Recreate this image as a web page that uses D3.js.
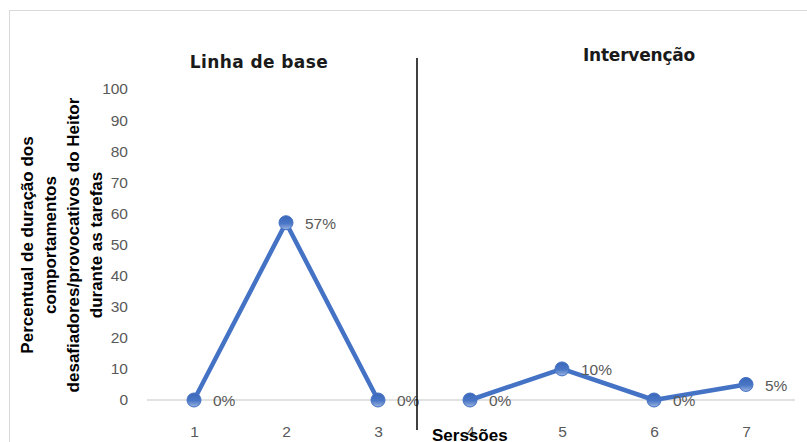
<!DOCTYPE html>
<html><head><meta charset="utf-8">
<script src="https://cdn.jsdelivr.net/npm/d3@7"></script>
<style>body{margin:0;background:#fff;}svg{display:block;}</style>
</head><body>
<svg id="c" width="807" height="442"></svg>
<script>
const sessions = ["1","2","3","4","5","6","7"];
const baselineValues = [0, 57, 0];
const interventionValues = [0, 10, 0, 5];
const baselineSessions = ["1","2","3"];
const interventionSessions = ["4","5","6","7"];
const yTicks = [0,10,20,30,40,50,60,70,80,90,100];
const phaseTitles = ["Linha de base", "Intervenção"];
const xTitle = "Serssões";
const yTitleLines = ["Percentual  de duração dos","comportamentos","desafiadores/provocativos do Heitor","durante as tarefas"];

const svg = d3.select("#c");
const gray = "#595959", blue = "#4472C4";
const font = "'Liberation Sans', Arial, sans-serif";

// chart border
svg.append("rect").attr("x",9.5).attr("y",10.5).attr("width",820).attr("height",460)
  .attr("fill","none").attr("stroke","#d9d9d9").attr("stroke-width",1);

const x = d3.scalePoint().domain(sessions).range([194,746]);
const y = d3.scaleLinear().domain([0,100]).range([400,89]);

// y axis labels
const ya = svg.append("g").attr("transform","translate(128,0)")
  .call(d3.axisLeft(y).tickValues(yTicks).tickSize(0).tickPadding(0));
ya.select(".domain").remove();
ya.selectAll("text").attr("fill",gray).attr("font-size",15.5).attr("font-family",font);

// zero gridline
svg.append("line").attr("x1",147).attr("x2",795).attr("y1",y(0)).attr("y2",y(0))
  .attr("stroke","#d9d9d9").attr("stroke-width",1.3);

// x axis labels
const xa = svg.append("g").attr("transform","translate(0,426)")
  .call(d3.axisBottom(x).tickSize(0).tickPadding(0));
xa.select(".domain").remove();
xa.selectAll("text").attr("fill",gray).attr("font-size",15.5).attr("font-family",font).attr("dy","0.71em");

// gradient for markers
const defs = svg.append("defs");
const grad = defs.append("linearGradient").attr("id","mg").attr("x1",0).attr("y1",0).attr("x2",0).attr("y2",1);
grad.append("stop").attr("offset","0%").attr("stop-color","#3a67b8");
grad.append("stop").attr("offset","55%").attr("stop-color","#4a76c6");
grad.append("stop").attr("offset","100%").attr("stop-color","#9db5e0");

function series(cats, vals){
  const data = cats.map((c,i)=>({c, v:vals[i]}));
  const line = d3.line().x(d=>x(d.c)).y(d=>y(d.v));
  svg.append("path").datum(data).attr("d",line).attr("fill","none")
    .attr("stroke",blue).attr("stroke-width",4.5).attr("stroke-linejoin","round");
  svg.append("g").selectAll("circle").data(data).join("circle")
    .attr("cx",d=>x(d.c)).attr("cy",d=>y(d.v)).attr("r",7)
    .attr("fill","url(#mg)").attr("stroke",blue).attr("stroke-width",1);
  svg.append("g").selectAll("text").data(data).join("text")
    .attr("x",d=>x(d.c)+19).attr("y",d=>y(d.v)+1).attr("dy","0.35em")
    .attr("fill",gray).attr("font-size",15.5).attr("font-family",font)
    .text(d=>d.v+"%");
}
series(baselineSessions, baselineValues);

// separator
svg.append("line").attr("x1",417).attr("x2",417).attr("y1",58).attr("y2",430)
  .attr("stroke","#000").attr("stroke-width",1.5);

series(interventionSessions, interventionValues);

// phase titles
svg.append("text").attr("x",259).attr("y",68).attr("text-anchor","middle")
  .attr("font-family","'DejaVu Sans', sans-serif").attr("font-weight","bold").attr("font-size",17)
  .attr("fill","#1a1a1a").attr("letter-spacing",0.4).text(phaseTitles[0]);
svg.append("text").attr("x",639).attr("y",61).attr("text-anchor","middle")
  .attr("font-family","'DejaVu Sans', sans-serif").attr("font-weight","bold").attr("font-size",17)
  .attr("fill","#1a1a1a").attr("letter-spacing",-0.2).text(phaseTitles[1]);

// x title
svg.append("text").attr("x",432).attr("y",441).attr("font-family",font)
  .attr("font-weight","bold").attr("font-size",17).attr("fill","#000").text(xTitle);

// y title
const yt = svg.append("text").attr("transform","translate(0,245) rotate(-90)")
  .attr("text-anchor","middle").attr("font-family",font).attr("font-weight","bold")
  .attr("font-size",17).attr("fill","#000");
yTitleLines.forEach((l,i)=>{
  yt.append("tspan").attr("x",0).attr("y",33+i*23).text(l);
});
</script>
</body></html>
